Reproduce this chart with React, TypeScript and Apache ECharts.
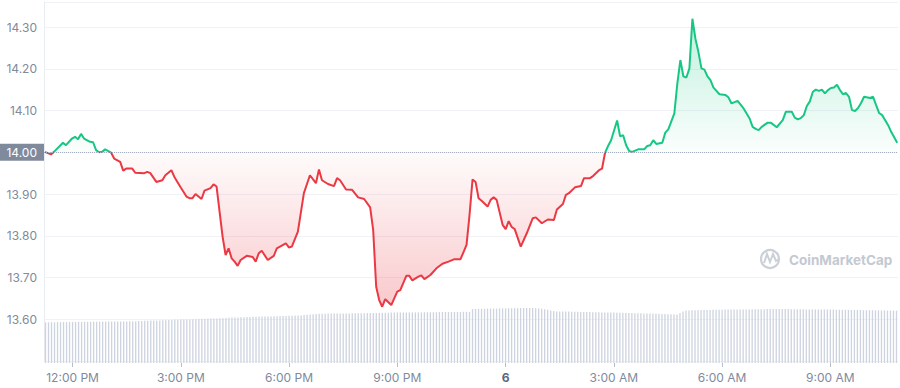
import React, { useEffect, useRef } from "react";
import * as echarts from "echarts";

// ---- Data ----
// Price samples: clock time (day 5 from 11:15, rolling into day 6) and price in USD
const priceTimes: string[] = [
  "11:15","11:25","11:30","11:45","11:50","12:00","12:05","12:10","12:15","12:20",
  "12:30","12:35","12:40","12:45","12:50","12:55","13:05","13:10","13:20","13:25",
  "13:30","13:40","13:45","14:00","14:05","14:10","14:20","14:30","14:35","14:45",
  "14:50","15:00","15:10","15:15","15:20","15:25","15:35","15:40","15:50","15:55",
  "16:00","16:10","16:15","16:20","16:25","16:30","16:35","16:40","16:50","17:00",
  "17:05","17:10","17:15","17:25","17:35","17:40","17:55","18:00","18:05","18:15",
  "18:25","18:35","18:45","18:50","18:55","19:05","19:15","19:20","19:25","19:35",
  "19:45","19:55","20:05","20:15","20:20","20:25","20:30","20:35","20:40","20:50",
  "21:00","21:05","21:15","21:20","21:25","21:35","21:40","21:45","21:55","22:05",
  "22:15","22:25","22:35","22:45","22:50","22:55","23:00","23:05","23:10","23:15",
  "23:20","23:30","23:35","23:40","23:45","23:55","00:00","00:05","00:10","00:15",
  "00:25","00:35","00:45","00:50","01:00","01:10","01:20","01:25","01:35","01:40",
  "01:45","01:55","02:05","02:10","02:20","02:25","02:35","02:40","02:45","02:50",
  "02:55","03:05","03:10","03:15","03:20","03:25","03:30","03:40","03:50","03:55",
  "04:00","04:05","04:10","04:20","04:25","04:30","04:40","04:45","04:50","04:55",
  "05:00","05:05","05:10","05:15","05:20","05:25","05:30","05:35","05:40","05:45",
  "05:55","06:05","06:10","06:15","06:25","06:35","06:45","06:50","06:55","07:00",
  "07:05","07:15","07:20","07:30","07:40","07:45","07:55","08:00","08:05","08:10",
  "08:15","08:20","08:25","08:30","08:35","08:40","08:45","08:50","08:55","09:00",
  "09:05","09:10","09:15","09:20","09:25","09:30","09:35","09:40","09:45","09:50",
  "09:55","10:05","10:10","10:15","10:20","10:25","10:35","10:40","10:50",
];

const prices: number[] = [
  14.001,13.995,14.001,14.023,14.017,14.033,14.037,14.031,14.044,14.033,
  14.025,14.024,14.005,14.000,14.001,14.007,13.999,13.985,13.977,13.956,
  13.961,13.961,13.951,13.950,13.953,13.950,13.929,13.933,13.945,13.957,
  13.941,13.917,13.894,13.890,13.890,13.900,13.888,13.908,13.914,13.923,
  13.918,13.798,13.754,13.770,13.746,13.738,13.728,13.742,13.752,13.749,
  13.738,13.758,13.764,13.742,13.752,13.770,13.782,13.772,13.774,13.810,
  13.902,13.945,13.926,13.959,13.933,13.924,13.919,13.938,13.933,13.911,
  13.910,13.892,13.888,13.868,13.814,13.678,13.646,13.630,13.648,13.634,
  13.666,13.670,13.704,13.704,13.693,13.702,13.705,13.696,13.706,13.722,
  13.733,13.738,13.744,13.744,13.761,13.778,13.850,13.935,13.929,13.890,
  13.884,13.870,13.886,13.892,13.886,13.826,13.816,13.835,13.821,13.816,
  13.774,13.806,13.842,13.844,13.830,13.839,13.838,13.863,13.876,13.898,
  13.902,13.916,13.919,13.938,13.938,13.943,13.957,13.961,13.999,14.015,
  14.029,14.076,14.038,14.041,14.017,14.003,14.001,14.007,14.007,14.015,
  14.017,14.029,14.020,14.023,14.047,14.055,14.093,14.165,14.221,14.182,
  14.179,14.201,14.320,14.272,14.240,14.201,14.198,14.182,14.173,14.155,
  14.139,14.137,14.131,14.117,14.123,14.105,14.081,14.061,14.056,14.053,
  14.061,14.071,14.071,14.060,14.077,14.097,14.097,14.083,14.079,14.082,
  14.089,14.111,14.122,14.145,14.150,14.147,14.150,14.141,14.149,14.154,
  14.155,14.162,14.149,14.139,14.142,14.133,14.101,14.099,14.106,14.118,
  14.133,14.130,14.133,14.113,14.094,14.089,14.065,14.049,14.023,
];

// Volume (USD millions), one bar every 5 minutes from 11:15 (day 5) to 10:50 (day 6)
const volumes: number[] = [
  203,203,204,203,204,204,205,204,205,205,205,206,205,206,206,206,207,206,207,207,
  207,207,208,207,208,208,208,208,209,208,209,210,210,211,211,212,212,213,213,214,
  214,215,215,216,216,217,217,218,218,219,219,220,221,221,222,222,223,223,224,224,
  225,226,227,228,228,229,229,230,230,231,231,232,232,232,233,233,234,234,235,235,
  235,236,236,237,237,238,240,241,242,244,245,246,246,246,247,247,247,247,248,248,
  248,248,249,249,249,249,249,250,250,250,250,251,251,251,251,252,252,252,252,252,
  253,253,253,253,253,253,254,254,254,254,254,255,255,255,255,255,255,255,255,256,
  256,256,270,270,271,271,271,272,272,272,272,273,273,273,274,274,274,274,275,275,
  275,275,275,274,273,271,269,266,263,260,258,258,257,257,257,256,256,256,255,255,
  255,255,254,254,254,253,253,253,252,252,251,251,251,250,250,250,249,249,249,248,
  248,247,247,246,246,245,245,244,244,243,242,250,257,263,263,264,264,264,265,265,
  265,265,266,266,266,266,267,267,267,267,268,268,268,268,268,269,269,269,269,269,
  270,270,270,270,270,270,270,270,269,269,269,269,269,268,268,268,268,268,267,267,
  267,267,267,266,266,266,266,266,265,265,265,265,264,264,264,264,263,263,263,263,
  262,262,262,262,
];

const yTickLabels = ["13.60", "13.70", "13.80", "13.90", "14.00", "14.10", "14.20", "14.30"];
const xTickHours = [0, 3, 6, 9, 12, 15, 18, 21];
const refPrice = 14.0;

const GREEN = "#16c784";
const RED = "#ea3943";

function toDate(hhmm: string): number {
  const [h, m] = hhmm.split(":").map(Number);
  const day = h < 11 ? 6 : 5;
  return new Date(2023, 0, day, h, m).getTime();
}

function pad2(n: number) {
  return (n < 10 ? "0" : "") + n;
}

// 5-minute slots for the volume bars (category axis)
const volStart = new Date(2023, 0, 5, 11, 15).getTime();
const volSlots: string[] = volumes.map((_, j) => {
  const d = new Date(volStart + j * 5 * 60000);
  return pad2(d.getHours()) + ":" + pad2(d.getMinutes());
});

function isMajorSlot(slot: string) {
  const [h, m] = slot.split(":").map(Number);
  return m === 0 && xTickHours.indexOf(h) >= 0;
}

type Flags = { vm: boolean; ml: boolean };

function buildOption(f: Flags) {
  const xMin = new Date(2023, 0, 5, 11, 13, 30).getTime();
  const xMax = new Date(2023, 0, 6, 10, 51, 20).getTime();

  const priceData = priceTimes.map((t, i) => [toDate(t), prices[i]]);

  const H = 388;
  const gridTop = 2;
  const gridBottom = 27;
  const yMin = 13.5;
  const yMax = 14.36;
  const plotH = H - gridTop - gridBottom;
  const yRef = gridTop + ((yMax - refPrice) / (yMax - yMin)) * plotH;
  const yBot = H - gridBottom;
  const off = yRef / yBot;

  const areaColor = new echarts.graphic.LinearGradient(
    0, 0, 0, yBot,
    [
      { offset: 0, color: "rgba(22,199,132,0.30)" },
      { offset: off - 0.001, color: "rgba(22,199,132,0.02)" },
      { offset: off + 0.001, color: "rgba(234,57,67,0.02)" },
      { offset: 1, color: "rgba(234,57,67,0.36)" },
    ],
    true
  );
  const lineColor = new echarts.graphic.LinearGradient(
    0, 0, 0, yBot,
    [
      { offset: 0, color: GREEN },
      { offset: off, color: GREEN },
      { offset: off, color: RED },
      { offset: 1, color: RED },
    ],
    true
  );

  const labelColor = "#808a9d";

  const xLabelFormatter = (slot: string) => {
    const [h] = slot.split(":").map(Number);
    if (h === 0) return "{day|6}";
    const h12 = h % 12 === 0 ? 12 : h % 12;
    return h12 + ":00 " + (h < 12 ? "AM" : "PM");
  };

  const lineSeries: any = {
    type: "line",
    xAxisIndex: 0,
    yAxisIndex: 0,
    data: priceData,
    symbol: "none",
    showSymbol: false,
    lineStyle: f.vm ? { width: 2 } : { width: 2, color: lineColor },
    areaStyle: { origin: refPrice, color: areaColor, opacity: 1 },
    z: 3,
  };
  if (f.ml) {
    lineSeries.markLine = {
      silent: true,
      symbol: "none",
      lineStyle: { type: "dotted", color: "#a6afbf", width: 1 },
      label: {
        show: true,
        position: "start",
        distance: 0,
        formatter: refPrice.toFixed(2),
        color: "#ffffff",
        fontSize: 12,
        fontFamily: "Inter",
        backgroundColor: "#808a9d",
        padding: [3, 7, 2, 7],
      },
      data: [{ yAxis: refPrice }],
    };
  }

  const opt: any = {
    animation: false,
    textStyle: { fontFamily: "Inter" },
    grid: [
      { left: 44, right: 2, top: gridTop, bottom: gridBottom },
      { left: 44, right: 2, bottom: 25, height: 60 },
    ],
    xAxis: [
      {
        type: "time",
        gridIndex: 0,
        min: xMin,
        max: xMax,
        axisLine: { show: false },
        axisTick: { show: false },
        axisLabel: { show: false },
        splitLine: { show: false },
      },
      {
        type: "category",
        gridIndex: 1,
        data: volSlots,
        boundaryGap: true,
        axisLine: { show: false },
        axisTick: {
          show: true,
          length: 4,
          alignWithLabel: true,
          interval: (_i: number, v: string) => isMajorSlot(v),
          lineStyle: { color: "#b8bfcc" },
        },
        splitLine: { show: false },
        axisLabel: {
          interval: (_i: number, v: string) => isMajorSlot(v),
          hideOverlap: false,
          color: labelColor,
          fontSize: 12,
          fontFamily: "Inter",
          margin: 8,
          formatter: xLabelFormatter,
          rich: {
            day: { fontWeight: "bold", color: "#58667e", fontSize: 12, fontFamily: "Inter" },
          },
        },
      },
    ],
    yAxis: [
      {
        type: "value",
        gridIndex: 0,
        min: yMin,
        max: yMax,
        interval: 0.1,
        axisLine: { show: true, lineStyle: { color: "#e9ecf0" } },
        axisTick: { show: false },
        splitLine: { lineStyle: { color: "#f0f2f5" } },
        axisLabel: {
          color: labelColor,
          fontSize: 12,
          fontFamily: "Inter",
          margin: 7,
          formatter: (v: number) => {
            const s = v.toFixed(2);
            if (f.ml && s === refPrice.toFixed(2)) return "";
            return yTickLabels.indexOf(s) >= 0 ? s : "";
          },
        },
      },
      {
        type: "value",
        gridIndex: 1,
        min: 0,
        max: 300,
        axisLine: { show: false },
        axisTick: { show: false },
        axisLabel: { show: false },
        splitLine: { show: false },
      },
    ],
    series: [
      lineSeries,
      {
        type: "bar",
        xAxisIndex: 1,
        yAxisIndex: 1,
        data: volumes,
        barWidth: 1.3,
        itemStyle: { color: "#cdd3df" },
        z: 1,
      },
    ],
    graphic: [
      {
        type: "circle",
        shape: { cx: 770, cy: 259, r: 9 },
        style: { fill: "none", stroke: "#cbd0d8", lineWidth: 2.2 },
      },
      {
        type: "polyline",
        shape: { points: [[764, 263], [767, 254], [770, 262], [773, 254], [776, 261], [779, 259]] },
        style: { fill: "none", stroke: "#cbd0d8", lineWidth: 2 },
      },
      {
        type: "text",
        x: 789,
        y: 260,
        style: {
          text: "CoinMarketCap",
          fill: "#c4c9d1",
          font: "bold 13.5px Inter",
          verticalAlign: "middle",
        },
      },
    ],
  };
  if (f.vm) {
    opt.visualMap = {
      type: "piecewise",
      show: false,
      seriesIndex: 0,
      dimension: 1,
      pieces: [
        { lt: refPrice, color: RED },
        { gte: refPrice, color: GREEN },
      ],
    };
  }
  return opt;
}

export default function App() {
  const ref = useRef<HTMLDivElement>(null);

  useEffect(() => {
    if (!ref.current) return;
    const variants: Flags[] = [
      { vm: true, ml: true },
      { vm: false, ml: true },
      { vm: false, ml: false },
    ];
    let chart: any = null;
    for (const f of variants) {
      chart = echarts.init(ref.current, null, { renderer: "svg" });
      try {
        chart.setOption(buildOption(f));
        break;
      } catch (e: any) {
        console.error("variant failed " + JSON.stringify(f) + " : " + (e && e.message));
        chart.dispose();
        chart = null;
      }
    }
    return () => {
      if (chart) chart.dispose();
    };
  }, []);

  return (
    <div
      ref={ref}
      style={{ position: "fixed", left: 0, top: 0, width: 900, height: 388, background: "#fff" }}
    />
  );
}
